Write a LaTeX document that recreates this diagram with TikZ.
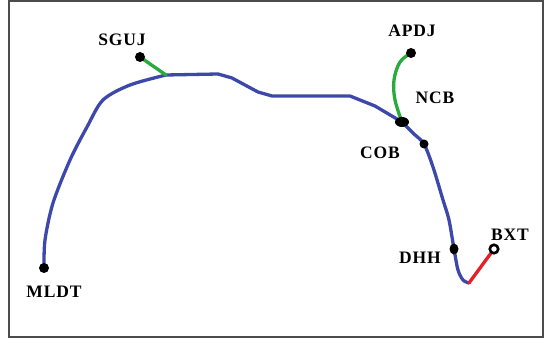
\documentclass[tikz,border=0pt]{standalone}
\usetikzlibrary{shapes.geometric,backgrounds}
\usepackage{fontspec}
\setmainfont{Liberation Serif}[LetterSpace=5]
\begin{document}
\begin{tikzpicture}[x=1pt,y=-1pt,
  line/.style={line width=3.3pt,line join=round,line cap=round},
  blueline/.style={line,draw={rgb,255:red,62;green,72;blue,170}},
  greenline/.style={line,draw={rgb,255:red,40;green,170;blue,60}},
  redline/.style={line,draw={rgb,255:red,230;green,30;blue,40}},
  stn/.style={circle,fill=black,inner sep=0pt,minimum size=10pt},
  lbl/.style={font=\bfseries\fontsize{17.5}{17.5}\selectfont,inner sep=0pt}]
\useasboundingbox (0,0) rectangle (544,344);
\draw[line width=1.2pt,draw=black!70] (9,1) rectangle (543,337);
% stations
\node[stn] (mldt) at (44,268) {};
\node[stn] (sguj) at (140,57) {};
\node[stn] (apdj) at (411,53) {};
\node[ellipse,fill=black,inner sep=0pt,minimum width=14pt,minimum height=10pt] (ncb) at (402,122) {};
\node[stn,minimum size=9pt] (cob) at (424,144) {};
\node[ellipse,fill=black,inner sep=0pt,minimum width=9pt,minimum height=11pt] (dhh) at (454,249) {};
\node[circle,draw=black,line width=2.6pt,fill=white,inner sep=0pt,minimum size=8.5pt] (bxt) at (494,249) {};
\coordinate (j1) at (166,75);
\coordinate (end) at (469,283);
\begin{scope}[on background layer]
% blue main line
\draw[blueline] plot[smooth,tension=0.5] coordinates {(mldt.center) (45,240) (53,203) (70,160) (87,127) (103,100) (130,85) (j1)}
  -- (218,74) -- (232,78) -- (258,92) -- (272,96) -- (350,96) -- (375,106) -- (ncb.center);
\draw[blueline] plot[smooth,tension=0.5] coordinates {(ncb.center) (414,134) (cob.center) (433,167) (443,200) (449,220) (dhh.center) (458,270) (463,280) (end)};
% branches
\draw[greenline] (sguj.center) -- (j1);
\draw[greenline] plot[smooth,tension=0.6] coordinates {(apdj.center) (400,62) (394,80) (395,100) (ncb.center)};
\draw[redline] (end) -- (bxt);
\end{scope}
% labels
\node[lbl] at (54,292) {MLDT};
\node[lbl] at (122,40) {SGUJ};
\node[lbl] at (412,31) {APDJ};
\node[lbl] at (435,98) {NCB};
\node[lbl] at (380,153) {COB};
\node[lbl] at (420,258) {DHH};
\node[lbl] at (510,235) {BXT};
\end{tikzpicture}
\end{document}
